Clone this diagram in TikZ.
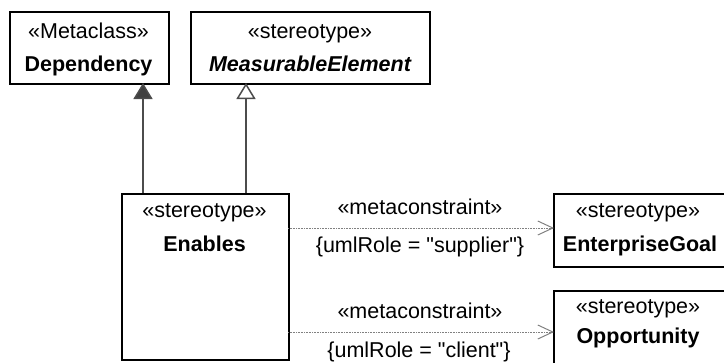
\documentclass[tikz,border=0pt]{standalone}
\usepackage{fontspec}
\setmainfont{Liberation Sans}
\usetikzlibrary{arrows.meta}
\tikzset{
  umlbox/.style={draw=black, line width=1.6pt, fill=white, inner sep=0pt, anchor=north west},
  genfill/.style={draw=black!70, line width=1.5pt, -{Triangle[length=16pt,width=19pt,fill=black!75]}},
  genopen/.style={draw=black!70, line width=1.5pt, -{Triangle[open,length=16pt,width=19pt,fill=white]}},
  metadep/.style={draw=black!50, line width=1pt, dash pattern=on 1pt off 0.6pt, -{Straight Barb[length=15pt,width=14pt,line width=1pt]}},
  lbl/.style={font=\fontsize{21.5}{25}\selectfont, inner sep=0pt, anchor=base},
  lblb/.style={font=\fontsize{21.5}{25}\selectfont\bfseries, inner sep=0pt, anchor=base},
}
\begin{document}
\begin{tikzpicture}[x=1pt,y=-1pt]
\useasboundingbox (0,0) rectangle (724,362);
\clip (0,0) rectangle (724,362);
% boxes
\node[umlbox, minimum width=159pt, minimum height=72pt] (dep) at (9,11) {};
\node[umlbox, minimum width=239pt, minimum height=72pt] (meas) at (190,11) {};
\node[umlbox, minimum width=167pt, minimum height=166pt] (en) at (121,193) {};
\node[umlbox, minimum width=190pt, minimum height=73pt] (eg) at (553,193) {};
\node[umlbox, minimum width=190pt, minimum height=100pt] (op) at (553,290) {};
% texts
\node[lbl] (depst) at (88.5,38) {«Metaclass»};
\node[lblb] (depn) at (88.5,71) {Dependency};
\node[lbl] (measst) at (310,38) {«stereotype»};
\node[lblb] (measn) at (310,71) {\itshape MeasurableElement};
\node[lbl] (enst) at (204.5,217.5) {«stereotype»};
\node[lblb] (enn) at (204.5,251) {Enables};
\node[lbl] (egst) at (638,217.5) {«stereotype»};
\node[lblb] (egn) at (640,251) {EnterpriseGoal};
\node[lbl] (opst) at (638,313) {«stereotype»};
\node[lblb] (opn) at (638,343) {Opportunity};
% connectors
\coordinate (a1) at (143,193);
\coordinate (a1t) at (143,83);
\coordinate (a2) at (246,193);
\coordinate (a2t) at (246,83);
\draw[genfill] (a1) -- (a1t);
\draw[genopen] (a2) -- (a2t);
\coordinate (d1s) at (288,228);
\coordinate (d1t) at (554,228);
\coordinate (d2s) at (288,332);
\coordinate (d2t) at (554,332);
\draw[metadep] (d1s) -- (d1t);
\draw[metadep] (d2s) -- (d2t);
\node[lbl] (m1) at (420,214) {«metaconstraint»};
\node[lbl] (r1) at (420,252.5) {\{umlRole = \textquotedbl supplier\textquotedbl\}};
\node[lbl] (m2) at (420,318) {«metaconstraint»};
\node[lbl] (r2) at (419,357) {\{umlRole = \textquotedbl client\textquotedbl\}};
\end{tikzpicture}
\end{document}
